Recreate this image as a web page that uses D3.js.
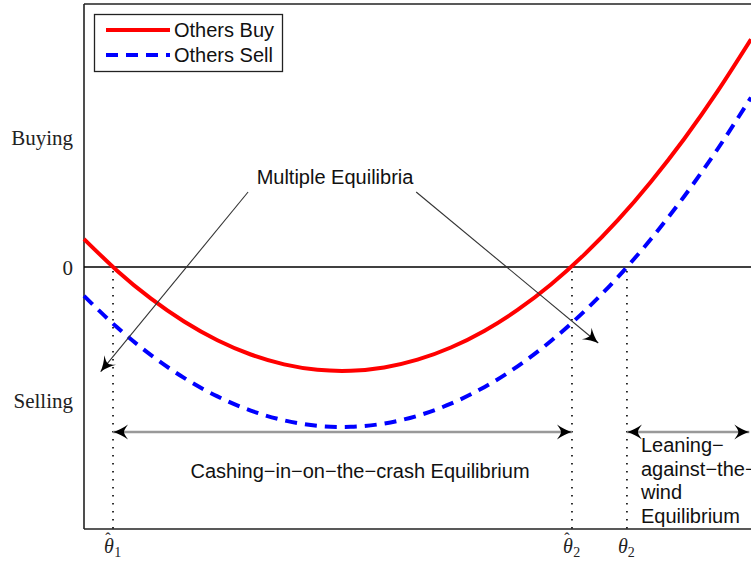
<!DOCTYPE html>
<html><head><meta charset="utf-8">
<script src="https://cdn.jsdelivr.net/npm/d3@7/dist/d3.min.js"></script>
<style>body{margin:0;background:#fff}svg{display:block}</style>
</head><body>
<script>
// ---- data ----
const thetaGrid = [0,0.05,0.10,0.15,0.20,0.25,0.30,0.35,0.40,0.45,0.50,0.55,0.60,0.65,0.70,0.75,0.80,0.85,0.90,0.95,1.00];
const othersBuy  = [0.280,-0.039,-0.314,-0.545,-0.732,-0.875,-0.974,-1.028,-1.038,-1.005,-0.927,-0.805,-0.639,-0.429,-0.175,0.124,0.466,0.853,1.283,1.758,2.277];
const othersSell = [-0.289,-0.606,-0.879,-1.109,-1.294,-1.436,-1.534,-1.588,-1.598,-1.565,-1.488,-1.367,-1.202,-0.993,-0.740,-0.444,-0.104,0.280,0.708,1.180,1.695];
const seriesNames = ["Others Buy","Others Sell"];
const yTickValues = [1.30, 0, -1.33];
const yTickLabels = ["Buying","0","Selling"];
const thresholds = [0.0435, 0.7316, 0.814];
const thresholdLabels = [{hat:true,sub:"1"},{hat:true,sub:"2"},{hat:false,sub:"2"}];
const eqArrowY = -1.65;

const W=751,H=565;
const svg=d3.select("body").append("svg").attr("width",W).attr("height",H);
const x=d3.scaleLinear().domain([0,1]).range([84,751]);
const y=d3.scaleLinear().domain([-2.62,2.63]).range([529,4]);

const defs=svg.append("defs");
defs.append("marker").attr("id","ah").attr("viewBox","-16 -8 18 16")
  .attr("refX",0).attr("refY",0).attr("markerWidth",18).attr("markerHeight",16)
  .attr("markerUnits","userSpaceOnUse").attr("orient","auto-start-reverse")
  .append("path").attr("d","M0,0 C-5,-1.5 -10,-4 -15,-7.5 C-12,-3.5 -11,-1.5 -11,0 C-11,1.5 -12,3.5 -15,7.5 C-10,4 -5,1.5 0,0 Z")
  .attr("fill","#000");

// frame
const fr=[y.range()[1],y.range()[0]];
svg.append("line").attr("x1",x(0)).attr("x2",W).attr("y1",fr[0]).attr("y2",fr[0]).attr("stroke","#222").attr("stroke-width",1.6);
svg.append("line").attr("x1",x(0)).attr("x2",W).attr("y1",fr[1]).attr("y2",fr[1]).attr("stroke","#222").attr("stroke-width",1.6);
svg.append("line").attr("x1",x(0)).attr("x2",x(0)).attr("y1",fr[0]).attr("y2",fr[1]).attr("stroke","#222").attr("stroke-width",1.6);

// zero line
svg.append("line").attr("x1",x(0)).attr("x2",W).attr("y1",y(0)).attr("y2",y(0)).attr("stroke","#000").attr("stroke-width",1.3);

const serif="Liberation Serif, Times New Roman, serif";
const fontSans="Liberation Sans, Arial, sans-serif";

// y labels
svg.selectAll("text.ylab").data(yTickValues).enter().append("text").attr("class","ylab")
  .attr("x",73).attr("y",d=>y(d)+8).attr("text-anchor","end")
  .attr("font-family",serif).attr("font-size",21).attr("fill","#222")
  .text((d,i)=>yTickLabels[i]);

// threshold dotted lines
svg.selectAll("line.thr").data(thresholds).enter().append("line").attr("class","thr")
  .attr("x1",d=>x(d)).attr("x2",d=>x(d)).attr("y1",y(0)+4).attr("y2",fr[1])
  .attr("stroke","#000").attr("stroke-width",1.6).attr("stroke-dasharray","1.6,6.4");

// threshold labels (hat, theta and subscript inside one text element)
thresholds.forEach((t,i)=>{
  const tx=svg.append("text").attr("x",x(t)-9).attr("y",553).attr("font-family",serif)
    .attr("font-size",20).attr("fill","#222");
  tx.append("tspan").attr("font-style","italic").text("θ");
  if(thresholdLabels[i].hat){
    tx.append("tspan").attr("dx",-8.5).attr("dy",-9).attr("font-size",16).text("ˆ");
    tx.append("tspan").attr("dx",3.5).attr("dy",13).attr("font-size",14).text(thresholdLabels[i].sub);
  } else {
    tx.append("tspan").attr("dy",4).attr("font-size",14).text(thresholdLabels[i].sub);
  }
});

// curves
const line=d3.line().x((d,i)=>x(thetaGrid[i])).y(d=>y(d)).curve(d3.curveNatural);
svg.append("path").datum(othersBuy).attr("d",line).attr("fill","none").attr("stroke","#f00").attr("stroke-width",4);
svg.append("path").datum(othersSell).attr("d",line).attr("fill","none").attr("stroke","#00f").attr("stroke-width",4).attr("stroke-dasharray","12,8");

// multiple equilibria arrows
svg.append("text").attr("x",335).attr("y",184).attr("text-anchor","middle").attr("font-family",fontSans).attr("font-size",20).attr("fill","#111").text("Multiple Equilibria");
const arrows=[[[0.246,0.75],[0.025,-1.047]],[[0.498,0.75],[0.771,-0.76]]];
arrows.forEach(a=>{
  svg.append("line").attr("x1",x(a[0][0])).attr("y1",y(a[0][1])).attr("x2",x(a[1][0])).attr("y2",y(a[1][1]))
    .attr("stroke","#333").attr("stroke-width",1.1).attr("marker-end","url(#ah)");
});

// equilibrium range arrows
const ranges=[[thresholds[0],thresholds[1]],[thresholds[2],0.9975]];
ranges.forEach(r=>{
  svg.append("line").attr("x1",x(r[0])).attr("x2",x(r[1])).attr("y1",y(eqArrowY)).attr("y2",y(eqArrowY))
    .attr("stroke","#999").attr("stroke-width",2.5).attr("marker-start","url(#ah)").attr("marker-end","url(#ah)");
});

svg.append("text").attr("x",360).attr("y",478).attr("text-anchor","middle")
  .attr("font-family",fontSans).attr("font-size",20).attr("fill","#111").text("Cashing−in−on−the−crash Equilibrium");
const lean=["Leaning−","against−the−","wind","Equilibrium"];
svg.selectAll("text.lean").data(lean).enter().append("text").attr("class","lean")
  .attr("x",x(thresholds[2])+14).attr("y",(d,i)=>452+i*23.5).attr("font-family",fontSans).attr("font-size",20).attr("fill","#111").text(d=>d);

// legend
const lg=svg.append("g");
lg.append("rect").attr("x",94.5).attr("y",14.5).attr("width",188).attr("height",57).attr("fill","#fff").attr("stroke","#222").attr("stroke-width",1.3);
const legendColors=["#f00","#00f"], legendDash=[null,"12,8"];
seriesNames.forEach((n,i)=>{
  const yy=30+i*25;
  lg.append("line").attr("x1",106).attr("x2",170).attr("y1",yy).attr("y2",yy).attr("stroke",legendColors[i]).attr("stroke-width",4).attr("stroke-dasharray",legendDash[i]);
  lg.append("text").attr("x",174).attr("y",yy+7).attr("font-family",fontSans).attr("font-size",20).attr("fill","#111").text(n);
});
</script>
</body></html>
